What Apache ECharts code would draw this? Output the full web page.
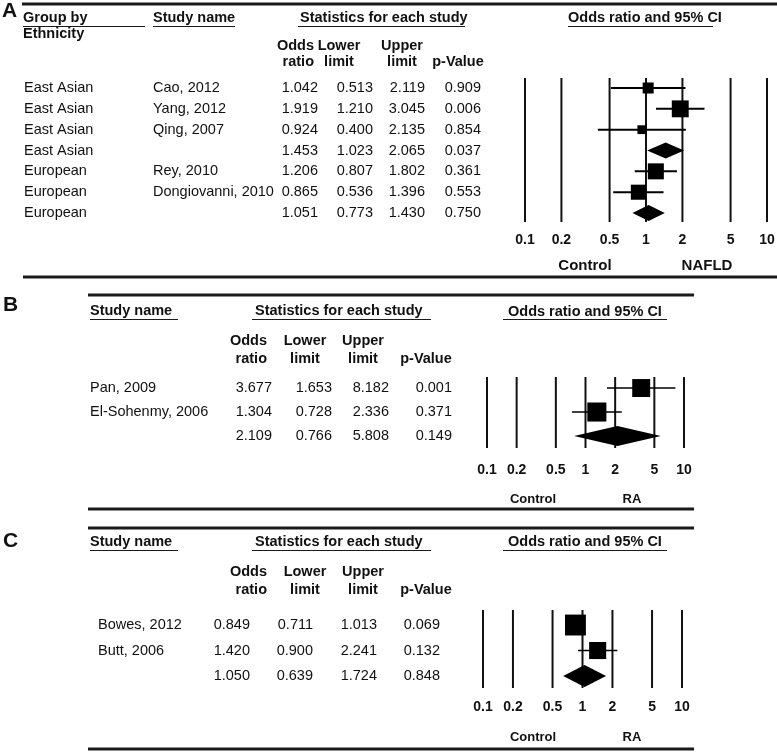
<!DOCTYPE html>
<html><head><meta charset="utf-8">
<script src="https://cdn.jsdelivr.net/npm/echarts@6/dist/echarts.min.js"></script>
<style>html,body{margin:0;padding:0;background:#fff}#c{width:777px;height:752px}</style>
</head><body><div id="c"></div>
<script>
// ---------------- data ----------------
const ticks = [0.1, 0.2, 0.5, 1, 2, 5, 10];

const groupA = ['East Asian','East Asian','East Asian','East Asian','European','European','European'];
const studyA = ['Cao, 2012','Yang, 2012','Qing, 2007','','Rey, 2010','Dongiovanni, 2010',''];
const orA    = [1.042, 1.919, 0.924, 1.453, 1.206, 0.865, 1.051];
const lowerA = [0.513, 1.210, 0.400, 1.023, 0.807, 0.536, 0.773];
const upperA = [2.119, 3.045, 2.135, 2.065, 1.802, 1.396, 1.430];
const pA     = [0.909, 0.006, 0.854, 0.037, 0.361, 0.553, 0.750];
const weightA  = [25, 59, 16, 0, 53, 47, 0];
const summaryA = [0, 0, 0, 1, 0, 0, 1];

const studyB = ['Pan, 2009','El-Sohenmy, 2006',''];
const orB    = [3.677, 1.304, 2.109];
const lowerB = [1.653, 0.728, 0.766];
const upperB = [8.182, 2.336, 5.808];
const pB     = [0.001, 0.371, 0.149];
const weightB  = [47, 53, 0];
const summaryB = [0, 0, 1];

const studyC = ['Bowes, 2012','Butt, 2006',''];
const orC    = [0.849, 1.420, 1.050];
const lowerC = [0.711, 0.900, 0.639];
const upperC = [1.013, 2.241, 1.724];
const pC     = [0.069, 0.132, 0.848];
const weightC  = [60, 40, 0];
const summaryC = [0, 0, 1];

const sideA = ['Control', 'NAFLD'];
const sideB = ['Control', 'RA'];
const sideC = ['Control', 'RA'];

// ---------------- layout ----------------
const FONT = '"Liberation Sans", Arial, Helvetica, sans-serif';
const INK = '#111';

const panels = [
  { grid:{left:525, top:78, width:242, height:144}, yMin:-0.48, yMax:6.43, sq:2.2, dia:16, ciW:2, refW:2, tickGap:18,
    cols:{group:24, study:153, or:318, lo:373, hi:425, p:481},
    group:groupA, study:studyA, or:orA, lo:lowerA, hi:upperA, p:pA, w:weightA, s:summaryA },
  { grid:{left:487, top:377, width:197, height:71}, yMin:-0.46, yMax:2.5, sq:2.62, dia:20, ciW:1.5, refW:2, tickGap:22,
    cols:{study:90, or:272, lo:332, hi:389, p:452},
    group:null, study:studyB, or:orB, lo:lowerB, hi:upperB, p:pB, w:weightB, s:summaryB },
  { grid:{left:483, top:610, width:199, height:78}, yMin:-0.59, yMax:2.47, sq:2.7, dia:22, ciW:1.5, refW:2, tickGap:19,
    cols:{study:98, or:250, lo:313, hi:377, p:440},
    group:null, study:studyC, or:orC, lo:lowerC, hi:upperC, p:pC, w:weightC, s:summaryC }
];

function txtStyle(text, size, bold, align) {
  return { text: text, fill: INK, fontFamily: FONT, fontSize: size || 14.5,
           fontWeight: bold ? 'bold' : 'normal', align: align || 'left', verticalAlign: 'middle' };
}
function T(text, x, y, bold, align, size) {
  return { type:'text', x:x, y:y, silent:true, style: txtStyle(text, size, bold, align) };
}
function L(x1, y1, x2, y2, w) {
  return { type:'line', silent:true, shape:{x1:x1, y1:y1, x2:x2, y2:y2}, style:{stroke:'#1a1a1a', lineWidth:w} };
}

const graphics = [
  // Panel A
  T('A', 2, 11, true, 'left', 21),
  L(22, 4, 777, 4, 3),
  T('Group by', 23, 18, true), L(23, 26.5, 145, 26.5, 1),
  T('Ethnicity', 23, 34, true),
  T('Study name', 153, 18, true), L(153, 26.5, 235, 26.5, 1),
  T('Statistics for each study', 300, 18, true), L(298, 26.5, 465, 26.5, 1),
  T('Odds ratio and 95% CI', 568, 18, true), L(568, 26.5, 713, 26.5, 1),
  T('Odds', 314, 46, true, 'right'), T('ratio', 314, 62, true, 'right'),
  T('Lower', 339, 46, true, 'center'), T('limit', 339, 62, true, 'center'),
  T('Upper', 402, 46, true, 'center'), T('limit', 402, 62, true, 'center'),
  T('p-Value', 458, 62, true, 'center'),
  T(sideA[0], 585, 266, true, 'center', 15), T(sideA[1], 707, 266, true, 'center', 15),
  L(23, 277, 777, 277, 3),
  // Panel B
  T('B', 3, 305, true, 'left', 21),
  L(88, 295, 694, 295, 3),
  T('Study name', 90, 311, true), L(90, 319.5, 178, 319.5, 1),
  T('Statistics for each study', 255, 311, true), L(252, 319.5, 431, 319.5, 1),
  T('Odds ratio and 95% CI', 508, 312, true), L(503, 319.5, 667, 319.5, 1),
  T('Odds', 267, 341, true, 'right'), T('ratio', 267, 359, true, 'right'),
  T('Lower', 305, 341, true, 'center'), T('limit', 305, 359, true, 'center'),
  T('Upper', 363, 341, true, 'center'), T('limit', 363, 359, true, 'center'),
  T('p-Value', 426, 359, true, 'center'),
  T(sideB[0], 533, 499, true, 'center', 13), T(sideB[1], 632, 499, true, 'center', 13),
  L(88, 509, 694, 509, 3),
  // Panel C
  T('C', 3, 541, true, 'left', 21),
  L(88, 528, 694, 528, 3),
  T('Study name', 90, 542, true), L(90, 550.5, 178, 550.5, 1),
  T('Statistics for each study', 255, 542, true), L(252, 550.5, 431, 550.5, 1),
  T('Odds ratio and 95% CI', 508, 542, true), L(503, 550.5, 667, 550.5, 1),
  T('Odds', 267, 572, true, 'right'), T('ratio', 267, 590, true, 'right'),
  T('Lower', 305, 572, true, 'center'), T('limit', 305, 590, true, 'center'),
  T('Upper', 363, 572, true, 'center'), T('limit', 363, 590, true, 'center'),
  T('p-Value', 426, 590, true, 'center'),
  T(sideC[0], 533, 737, true, 'center', 13), T(sideC[1], 632, 737, true, 'center', 13),
  L(88, 749, 694, 749, 3)
];

const grids = [], xAxes = [], yAxes = [], series = [];
panels.forEach(function (P, k) {
  grids.push(Object.assign({}, P.grid, {containLabel:false}));
  xAxes.push({ type:'log', logBase:10, min:0.1, max:10, gridIndex:k, show:false });
  yAxes.push({ type:'value', inverse:true, min:P.yMin, max:P.yMax, gridIndex:k, show:false });

  // reference lines + tick labels
  series.push({
    type:'custom', xAxisIndex:k, yAxisIndex:k, z:1, silent:true, clip:false,
    data: ticks.map(function (t) { return [t, 0]; }),
    renderItem: function (params, api) {
      const cs = params.coordSys;
      const x = api.coord([api.value(0), 0])[0];
      return { type:'group', children:[
        { type:'line', shape:{x1:x, y1:cs.y, x2:x, y2:cs.y + cs.height}, style:{stroke:'#111', lineWidth:P.refW} },
        { type:'text', x:x, y:cs.y + cs.height + P.tickGap, style: txtStyle(String(ticks[params.dataIndex]), 14, true, 'center') }
      ]};
    }
  });

  // forest marks + table rows
  series.push({
    type:'custom', xAxisIndex:k, yAxisIndex:k, z:2, silent:true, clip:false,
    data: P.or.map(function (v, i) { return [v, i, P.lo[i], P.hi[i], P.s[i], P.w[i]]; }),
    renderItem: function (params, api) {
      const i = params.dataIndex;
      const c = api.coord([api.value(0), i]);
      const lo = api.coord([api.value(2), i]);
      const hi = api.coord([api.value(3), i]);
      const kids = [];
      if (api.value(4) === 1) {
        const h = P.dia / 2;
        kids.push({ type:'polygon', shape:{ points:[[lo[0], c[1]], [c[0], c[1] - h], [hi[0], c[1]], [c[0], c[1] + h]] },
                    style:{ fill:'#000' } });
      } else {
        const s = P.sq * Math.sqrt(api.value(5));
        kids.push({ type:'line', shape:{x1:lo[0], y1:c[1], x2:hi[0], y2:c[1]}, style:{stroke:'#000', lineWidth:P.ciW} });
        kids.push({ type:'rect', shape:{x:c[0] - s/2, y:c[1] - s/2, width:s, height:s}, style:{fill:'#000'} });
      }
      const y = c[1];
      const C = P.cols;
      if (P.group) kids.push({ type:'text', x:C.group, y:y, style: txtStyle(P.group[i], 14.5, false, 'left') });
      kids.push({ type:'text', x:C.study, y:y, style: txtStyle(P.study[i], 14.5, false, 'left') });
      kids.push({ type:'text', x:C.or, y:y, style: txtStyle(P.or[i].toFixed(3), 14.5, false, 'right') });
      kids.push({ type:'text', x:C.lo, y:y, style: txtStyle(P.lo[i].toFixed(3), 14.5, false, 'right') });
      kids.push({ type:'text', x:C.hi, y:y, style: txtStyle(P.hi[i].toFixed(3), 14.5, false, 'right') });
      kids.push({ type:'text', x:C.p, y:y, style: txtStyle(P.p[i].toFixed(3), 14.5, false, 'right') });
      return { type:'group', children:kids };
    }
  });
});

const chart = echarts.init(document.getElementById('c'), null, {renderer:'canvas'});
chart.setOption({
  backgroundColor:'#fff',
  animation:false,
  grid: grids, xAxis: xAxes, yAxis: yAxes,
  series: series,
  graphic: graphics
});
</script>
</body></html>
